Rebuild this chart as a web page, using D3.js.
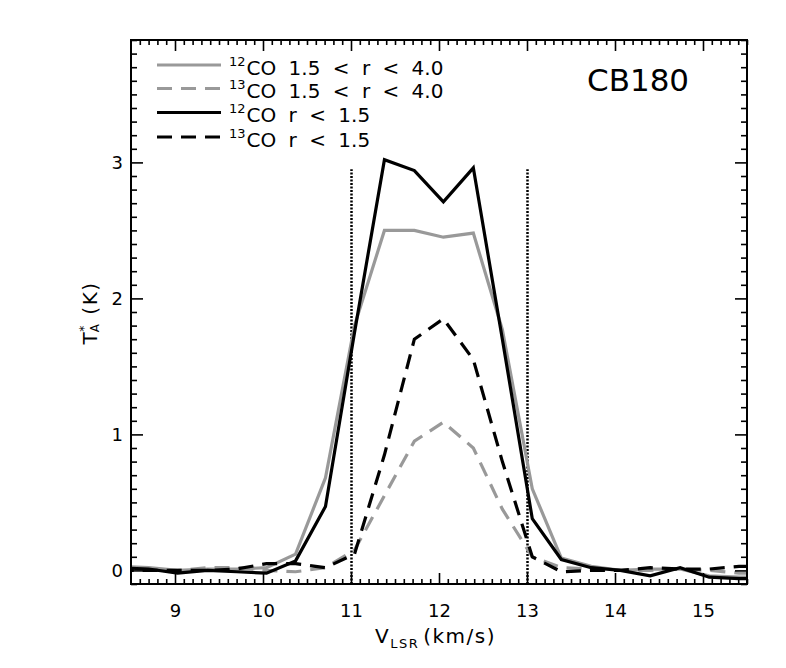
<!DOCTYPE html>
<html>
<head>
<meta charset="utf-8">
<script src="https://cdn.jsdelivr.net/npm/d3@7"></script>
<style>
  html, body { margin: 0; padding: 0; background: #fff; }
  svg { display: block; font-family: "DejaVu Sans", sans-serif; }
</style>
</head>
<body>
<svg id="chart" width="786" height="668"></svg>
<script>
// ---- data ----
const velocity  = [8.36, 8.70, 9.03, 9.37, 9.70, 10.04, 10.37, 10.71, 11.04, 11.38, 11.72, 12.05, 12.39, 12.72, 13.06, 13.39, 13.73, 14.06, 14.40, 14.74, 15.07, 15.41, 15.74];
const co12Outer = [0.03, 0.02, 0.00, 0.01, 0.01, 0.02, 0.12, 0.68, 1.80, 2.50, 2.50, 2.45, 2.48, 1.77, 0.60, 0.09, 0.03, 0.00, 0.01, 0.01, -0.04, -0.05, -0.05];
const co13Outer = [0.01, 0.00, 0.00, 0.02, 0.02, 0.00, -0.01, 0.02, 0.15, 0.55, 0.95, 1.09, 0.90, 0.45, 0.10, 0.02, 0.01, 0.00, 0.00, 0.01, 0.00, -0.02, -0.02];
const co12Inner = [0.02, 0.01, -0.02, 0.00, -0.01, -0.02, 0.07, 0.47, 1.75, 3.02, 2.94, 2.71, 2.96, 1.70, 0.38, 0.08, 0.02, 0.00, -0.04, 0.02, -0.05, -0.06, -0.06];
const co13Inner = [0.00, 0.00, 0.00, 0.00, 0.01, 0.05, 0.05, 0.02, 0.12, 0.85, 1.70, 1.85, 1.55, 0.80, 0.10, -0.01, 0.00, 0.00, 0.02, 0.01, 0.01, 0.03, 0.03];

const seriesNames = [
  { iso: "12", label: "CO 1.5 < r < 4.0" },
  { iso: "13", label: "CO 1.5 < r < 4.0" },
  { iso: "12", label: "CO r < 1.5" },
  { iso: "13", label: "CO r < 1.5" }
];
const xTicks = [9, 10, 11, 12, 13, 14, 15];
const yTicks = [0, 1, 2, 3];
const velocityMarks = [11, 13];
const markTop = 2.95;
const xDomain = [8.5, 15.5];
const yDomain = [-0.1, 3.9];
const sourceName = "CB180";

// ---- layout ----
const L = 131, R = 747, T = 40, B = 584;
const svg = d3.select("#chart");
const x = d3.scaleLinear().domain(xDomain).range([L, R]);
const y = d3.scaleLinear().domain(yDomain).range([B, T]);

const styles = [
  { color: "#999999", dash: null },
  { color: "#999999", dash: "15,9" },
  { color: "#000000", dash: null },
  { color: "#000000", dash: "15,9" }
];
const seriesValues = [co12Outer, co13Outer, co12Inner, co13Inner];

// clip
svg.append("defs").append("clipPath").attr("id", "plotclip")
  .append("rect").attr("x", L).attr("y", T).attr("width", R - L).attr("height", B - T);

// dotted velocity marks
svg.append("g").selectAll("line").data(velocityMarks).join("line")
  .attr("x1", d => Math.round(x(d)) + 0.5).attr("x2", d => Math.round(x(d)) + 0.5)
  .attr("y1", y(yDomain[0])).attr("y2", y(markTop))
  .attr("stroke", "#000").attr("stroke-width", 2.5)
  .attr("stroke-dasharray", "2,1.5");

// lines
const line = d3.line().x((d, i) => x(velocity[i])).y(d => y(d));
const gLines = svg.append("g").attr("clip-path", "url(#plotclip)");
seriesValues.forEach((vals, k) => {
  gLines.append("path").datum(vals)
    .attr("d", line)
    .attr("fill", "none")
    .attr("stroke", styles[k].color)
    .attr("stroke-width", 3.2)
    .attr("stroke-linejoin", "miter")
    .attr("stroke-dasharray", styles[k].dash);
});

// ---- axes ----
const xMinor = d3.range(86, 156).map(d => d / 10).filter(d => !xTicks.includes(d));
const yMinor = d3.range(-1, 40).map(d => d / 10).filter(d => !yTicks.includes(Math.round(d * 10) / 10));

function styleAxis(g) {
  g.select(".domain").remove();
  g.selectAll(".tick line").attr("stroke", "#000").attr("stroke-width", 1.6);
  g.selectAll("text").attr("fill", "#000").attr("font-size", 18)
    .attr("font-family", "DejaVu Sans, sans-serif");
}

// bottom
svg.append("g").attr("transform", `translate(0,${B})`)
  .call(d3.axisBottom(x).tickValues(xTicks).tickSize(-11).tickPadding(20).tickFormat(d3.format("d")))
  .call(styleAxis);
svg.append("g").attr("transform", `translate(0,${B})`)
  .call(d3.axisBottom(x).tickValues(xMinor).tickSize(-5).tickFormat(""))
  .call(styleAxis);
// top
svg.append("g").attr("transform", `translate(0,${T})`)
  .call(d3.axisTop(x).tickValues(xTicks).tickSize(-11).tickFormat(""))
  .call(styleAxis);
svg.append("g").attr("transform", `translate(0,${T})`)
  .call(d3.axisTop(x).tickValues(xMinor).tickSize(-5).tickFormat(""))
  .call(styleAxis);
// left
svg.append("g").attr("transform", `translate(${L},0)`)
  .call(d3.axisLeft(y).tickValues(yTicks).tickSize(-12).tickPadding(8).tickFormat(d3.format("d")))
  .call(styleAxis);
svg.append("g").attr("transform", `translate(${L},0)`)
  .call(d3.axisLeft(y).tickValues(yMinor).tickSize(-6).tickFormat(""))
  .call(styleAxis);
// right
svg.append("g").attr("transform", `translate(${R},0)`)
  .call(d3.axisRight(y).tickValues(yTicks).tickSize(-12).tickFormat(""))
  .call(styleAxis);
svg.append("g").attr("transform", `translate(${R},0)`)
  .call(d3.axisRight(y).tickValues(yMinor).tickSize(-6).tickFormat(""))
  .call(styleAxis);

// frame
svg.append("rect").attr("x", L).attr("y", T).attr("width", R - L).attr("height", B - T)
  .attr("fill", "none").attr("stroke", "#000").attr("stroke-width", 2);

// ---- legend ----
const legendRowsY = [65, 88.5, 112.5, 137];
const leg = svg.append("g");
seriesNames.forEach((s, k) => {
  const yy = legendRowsY[k];
  leg.append("line").attr("x1", 157).attr("x2", 221).attr("y1", yy).attr("y2", yy)
    .attr("stroke", styles[k].color).attr("stroke-width", 3.2)
    .attr("stroke-dasharray", styles[k].dash);
  const t = leg.append("text").attr("x", 229).attr("y", yy + 9.5)
    .attr("font-size", 20).attr("fill", "#000").attr("word-spacing", 6)
    .style("white-space", "pre");
  t.append("tspan").attr("font-size", 13).attr("dy", -9).text(s.iso);
  t.append("tspan").attr("dy", 9).attr("dx", 1).text(s.label);
});

// source name
svg.append("text").attr("x", 587).attr("y", 91).attr("font-size", 31)
  .attr("fill", "#000").text(sourceName);

// axis titles
const xt = svg.append("text").attr("x", 375).attr("y", 643)
  .attr("font-size", 20).attr("fill", "#000").attr("letter-spacing", 1.5);
xt.append("tspan").text("V");
xt.append("tspan").attr("font-size", 13).attr("dy", 5).text("LSR");
xt.append("tspan").attr("dy", -5).attr("dx", 4).text("(km/s)");

const yt = svg.append("text").attr("transform", "translate(97,313) rotate(-90)")
  .attr("text-anchor", "middle").attr("font-size", 20).attr("fill", "#000")
  .attr("letter-spacing", 1.5);
yt.append("tspan").text("T");
yt.append("tspan").attr("font-size", 12).attr("dy", -9).attr("dx", -1).text("*");
yt.append("tspan").attr("font-size", 12).attr("dy", 11).attr("dx", -8).text("A");
yt.append("tspan").attr("dy", -2).attr("dx", 8).text("(K)");
</script>
</body>
</html>
